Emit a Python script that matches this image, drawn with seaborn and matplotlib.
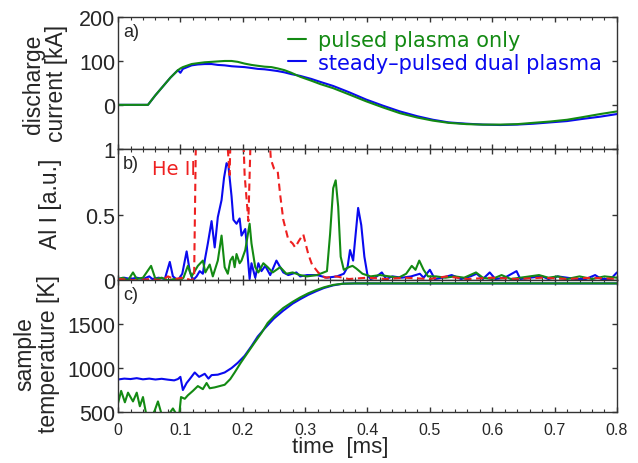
import numpy as np
import pandas as pd
from matplotlib import pyplot as plt
from matplotlib.ticker import MultipleLocator
import seaborn as sb

# panel a) discharge current [kA]
t_cur = [0, 0.048, 0.06, 0.072, 0.084, 0.096, 0.1, 0.104, 0.118, 0.128, 0.139, 0.15, 0.16,
         0.171, 0.182, 0.192, 0.203, 0.214, 0.224, 0.235, 0.246, 0.256, 0.267, 0.278, 0.292,
         0.31, 0.325, 0.345, 0.37, 0.398, 0.425, 0.452, 0.48, 0.505, 0.53, 0.559, 0.585,
         0.613, 0.64, 0.666, 0.693, 0.72, 0.745, 0.773, 0.8]
cur_pulsed = [0, 0, 22, 42, 62, 79, 83, 86, 93, 95, 97, 98, 99,
              100, 100, 98, 94, 91, 89, 87, 86, 83, 79, 73, 64,
              55, 47, 38, 24, 8, -6, -19, -29, -36, -41, -44, -45,
              -45, -44, -41, -38, -34, -28, -21, -15]
cur_dual = [0, 0, 22, 42, 62, 79, 73, 82, 90, 92, 93, 93, 91,
            90, 88, 87, 86, 84, 82, 81, 79, 77, 74, 70, 66,
            59, 52, 43, 29, 12, -2, -15, -26, -34, -40, -43, -45,
            -46, -45, -43, -40, -37, -32, -27, -21]

# panel b) Al I emission [a.u.]
t_al_dual = [0.0, 0.01, 0.02, 0.03, 0.04, 0.05, 0.055, 0.065, 0.075, 0.083, 0.088, 0.096,
             0.103, 0.11, 0.115, 0.12, 0.126, 0.131, 0.136, 0.139, 0.144, 0.15, 0.155, 0.16,
             0.166, 0.17, 0.174, 0.177, 0.182, 0.185, 0.19, 0.195, 0.198, 0.204, 0.206, 0.211,
             0.214, 0.22, 0.225, 0.23, 0.236, 0.244, 0.254, 0.26, 0.265, 0.273, 0.286, 0.292,
             0.303, 0.319, 0.335, 0.351, 0.362, 0.368, 0.372, 0.377, 0.381, 0.385, 0.39, 0.395,
             0.4, 0.405, 0.412, 0.423, 0.43, 0.44, 0.455, 0.47, 0.484, 0.49, 0.5, 0.508,
             0.52, 0.535, 0.55, 0.565, 0.575, 0.585, 0.596, 0.605, 0.62, 0.639, 0.645, 0.66,
             0.68, 0.69, 0.705, 0.72, 0.735, 0.75, 0.765, 0.775, 0.79, 0.8]
al_dual = [0.01, 0.02, 0.01, 0.02, 0.01, 0.03, 0.01, 0.02, 0.01, 0.14, 0.03, 0.0,
           0.05, 0.22, 0.07, 0.0, 0.03, 0.07, 0.05, 0.15, 0.28, 0.45, 0.25, 0.48,
           0.61, 0.78, 0.89, 0.87, 0.64, 0.46, 0.43, 0.47, 0.34, 0.39, 0.29, 0.01,
           0.13, 0.02, 0.13, 0.07, 0.11, 0.04, 0.15, 0.1, 0.06, 0.04, 0.06, 0.03,
           0.04, 0.04, 0.02, 0.03, 0.05, 0.1, 0.23, 0.15, 0.35, 0.55, 0.42, 0.18,
           0.04, 0.01, 0.02, 0.06, 0.01, 0.03, 0.02, 0.03, 0.05, 0.02, 0.08, 0.01,
           0.02, 0.04, 0.01, 0.03, 0.05, 0.01, 0.06, 0.01, 0.02, 0.07, 0.01, 0.02,
           0.03, 0.01, 0.03, 0.02, 0.01, 0.01, 0.04, 0.01, 0.01, 0.06]

t_al_pulsed = [0.0, 0.008, 0.016, 0.024, 0.03, 0.04, 0.053, 0.06, 0.07, 0.08, 0.09, 0.1,
               0.105, 0.112, 0.118, 0.128, 0.136, 0.14, 0.147, 0.152, 0.16, 0.166, 0.171, 0.176,
               0.18, 0.184, 0.187, 0.19, 0.195, 0.198, 0.204, 0.211, 0.214, 0.22, 0.225, 0.233,
               0.24, 0.248, 0.26, 0.27, 0.28, 0.292, 0.303, 0.319, 0.335, 0.34, 0.345, 0.349,
               0.353, 0.357, 0.362, 0.37, 0.376, 0.382, 0.392, 0.405, 0.42, 0.435, 0.45, 0.462,
               0.471, 0.477, 0.483, 0.49, 0.497, 0.51, 0.525, 0.54, 0.555, 0.574, 0.585, 0.6,
               0.615, 0.63, 0.645, 0.66, 0.675, 0.69, 0.705, 0.72, 0.74, 0.76, 0.78, 0.8]
al_pulsed = [0.01, 0.02, 0.0, 0.06, 0.01, 0.02, 0.11, 0.01, 0.02, 0.0, 0.01, 0.0,
             0.02, 0.11, 0.03, 0.11, 0.15, 0.06, 0.12, 0.03, 0.15, 0.34, 0.1, 0.05,
             0.15, 0.18, 0.1, 0.2, 0.13, 0.15, 0.23, 0.43, 0.28, 0.1, 0.06, 0.13,
             0.1, 0.06, 0.1, 0.05, 0.06, 0.04, 0.03, 0.04, 0.07, 0.35, 0.7, 0.76,
             0.56, 0.18, 0.08, 0.1, 0.11, 0.09, 0.05, 0.03, 0.04, 0.03, 0.02, 0.05,
             0.11, 0.08, 0.15, 0.08, 0.03, 0.03, 0.02, 0.03, 0.02, 0.06, 0.02, 0.01,
             0.04, 0.01, 0.02, 0.03, 0.04, 0.02, 0.03, 0.01, 0.03, 0.01, 0.03, 0.02]

# He II line (dashed red), goes off-scale above 1
t_he = [0.0, 0.03, 0.05, 0.07, 0.08, 0.09, 0.105, 0.118, 0.122, 0.126, 0.17, 0.176, 0.179,
        0.182, 0.198, 0.203, 0.209, 0.215, 0.238, 0.245, 0.25, 0.256, 0.26, 0.265, 0.273,
        0.28, 0.284, 0.29, 0.297, 0.305, 0.311, 0.321, 0.332, 0.35, 0.37, 0.4, 0.43, 0.46,
        0.5, 0.527, 0.56, 0.6, 0.64, 0.68, 0.72, 0.76, 0.8]
he2 = [0.01, 0.0, 0.01, 0.0, 0.03, 0.01, 0.02, 0.0, 0.02, 1.5, 1.5, 1.0, 0.8,
       1.5, 1.5, 0.8, 0.45, 1.5, 1.5, 0.92, 0.85, 0.83, 0.65, 0.46, 0.31,
       0.28, 0.25, 0.3, 0.35, 0.2, 0.12, 0.06, 0.02, 0.03, 0.01, 0.02, 0.01, 0.02,
       0.01, 0.03, 0.01, 0.02, 0.01, 0.02, 0.01, 0.02, 0.01]

# panel c) sample temperature [K]
t_temp_dual = [0.0, 0.01, 0.02, 0.03, 0.04, 0.05, 0.06, 0.07, 0.08, 0.09, 0.096, 0.1,
               0.104, 0.11, 0.115, 0.123, 0.13, 0.139, 0.145, 0.15, 0.16, 0.171, 0.182, 0.192,
               0.203, 0.214, 0.224, 0.235, 0.25, 0.265, 0.28, 0.292, 0.305, 0.318, 0.33, 0.345,
               0.361, 0.38, 0.8]
temp_dual = [870, 880, 875, 885, 872, 880, 870, 878, 868, 860, 875, 900,
             750, 830, 875, 950, 900, 935, 880, 920, 925, 950, 1000, 1060,
             1140, 1250, 1360, 1450, 1565, 1655, 1735, 1785, 1835, 1877, 1912, 1943,
             1962, 1965, 1965]
t_temp_pulsed = [0.0, 0.005, 0.011, 0.016, 0.024, 0.03, 0.035, 0.04, 0.045, 0.055, 0.059, 0.064,
                 0.07, 0.08, 0.088, 0.094, 0.098, 0.101, 0.107, 0.112, 0.12, 0.128, 0.136, 0.142,
                 0.147, 0.155, 0.163, 0.171, 0.18, 0.187, 0.197, 0.208, 0.219, 0.23, 0.24, 0.252,
                 0.265, 0.28, 0.292, 0.305, 0.318, 0.33, 0.345, 0.361, 0.38, 0.8]
temp_pulsed = [600, 740, 610, 720, 620, 720, 565, 670, 480, 460, 520, 620,
               470, 460, 540, 470, 460, 670, 650, 690, 740, 795, 760, 830,
               770, 780, 795, 810, 875, 950, 1063, 1177, 1290, 1400, 1515, 1605,
               1685, 1755, 1805, 1852, 1890, 1920, 1948, 1962, 1965, 1965]

GREEN = '#138a13'
BLUE = '#0a0aef'
RED = '#ee2020'
TXT = '#262626'

sb.set_style('ticks')
plt.rcParams.update({'font.family': ['Liberation Sans', 'DejaVu Sans'],
                     'axes.edgecolor': '#333333',
                     'axes.linewidth': 1.0,
                     'text.color': TXT,
                     'xtick.color': '#333333',
                     'ytick.color': '#333333',
                     'xtick.labelcolor': TXT,
                     'ytick.labelcolor': TXT})

fig, axes = plt.subplots(3, 1, figsize=(6.38, 4.64), dpi=100, sharex=True)
fig.subplots_adjust(left=0.185, right=0.967, top=0.961, bottom=0.110, hspace=0.0)
ax_a, ax_b, ax_c = axes

lw = 1.5
sb.lineplot(x=t_cur, y=cur_dual, ax=ax_a, color=BLUE, lw=lw, label='steady\u2013pulsed dual plasma',
            estimator=None, sort=False)
sb.lineplot(x=t_cur, y=cur_pulsed, ax=ax_a, color=GREEN, lw=lw, label='pulsed plasma only',
            estimator=None, sort=False)

sb.lineplot(x=t_al_dual, y=al_dual, ax=ax_b, color=BLUE, lw=lw, estimator=None, sort=False)
sb.lineplot(x=t_al_pulsed, y=al_pulsed, ax=ax_b, color=GREEN, lw=lw, estimator=None, sort=False)
sb.lineplot(x=t_he, y=he2, ax=ax_b, color=RED, lw=lw, estimator=None, sort=False)
ax_b.lines[-1].set_dashes((3.5, 2.2))

sb.lineplot(x=t_temp_dual, y=temp_dual, ax=ax_c, color=BLUE, lw=lw, estimator=None, sort=False)
sb.lineplot(x=t_temp_pulsed, y=temp_pulsed, ax=ax_c, color=GREEN, lw=lw, estimator=None, sort=False)

# legend: coloured text, green entry on top
h, l = ax_a.get_legend_handles_labels()
leg = ax_a.legend(h[::-1], l[::-1], loc='upper left', bbox_to_anchor=(0.34, 0.9),
                  frameon=False, handlelength=0.9, handletextpad=0.55, borderpad=0,
                  borderaxespad=0, labelspacing=0.12,
                  prop={'family': 'DejaVu Sans', 'size': 15})
for txt, c in zip(leg.get_texts(), [GREEN, BLUE]):
    txt.set_color(c)

ax_b.text(0.068, 0.85, 'He II', color=RED, fontsize=14, family='DejaVu Sans',
          transform=ax_b.transAxes, ha='left', va='center')

for ax, lab in zip(axes, ['a)', 'b)', 'c)']):
    ax.text(0.01, 0.955, lab, transform=ax.transAxes, fontsize=13, ha='left', va='top')
    ax.set_xlim(0, 0.8)
    ax.xaxis.set_major_locator(MultipleLocator(0.1))
    ax.xaxis.set_minor_locator(MultipleLocator(0.02))
    ax.tick_params(which='both', direction='in', top=True, right=True)
    ax.tick_params(which='major', length=3.8, width=1.0)
    ax.tick_params(which='minor', length=2.5, width=0.8)
    ax.tick_params(axis='y', labelsize=15.5, pad=2)
    ax.tick_params(axis='x', labelsize=11.5, pad=7)

ax_a.set_ylim(-100, 200)
ax_a.set_yticks([0, 100, 200])
ax_b.set_ylim(0, 1)
ax_b.set_yticks([0, 0.5, 1])
ax_b.set_yticklabels(['0', '0.5', '1'])
ax_c.set_ylim(500, 2000)
ax_c.set_yticks([500, 1000, 1500])

ax_c.set_xticks([0, 0.1, 0.2, 0.3, 0.4, 0.5, 0.6, 0.7, 0.8])
ax_c.set_xticklabels(['0', '0.1', '0.2', '0.3', '0.4', '0.5', '0.6', '0.7', '0.8'])

ax_a.set_ylabel('discharge\ncurrent [kA]', fontsize=16.5, va='center', linespacing=1.0)
ax_a.yaxis.set_label_coords(-0.146, 0.5)
ax_b.set_ylabel('Al I [a.u.]', fontsize=16.5, va='center')
ax_b.yaxis.set_label_coords(-0.136, 0.59)
ax_c.set_ylabel('sample\ntemperature [K]', fontsize=16.5, va='center', linespacing=1.0)
ax_c.yaxis.set_label_coords(-0.163, 0.45)
ax_c.set_xlabel('time  [ms]', fontsize=16, va='center')
ax_c.xaxis.set_label_coords((340 - 118) / 499, -0.26)

plt.savefig('out.png', dpi=100)
